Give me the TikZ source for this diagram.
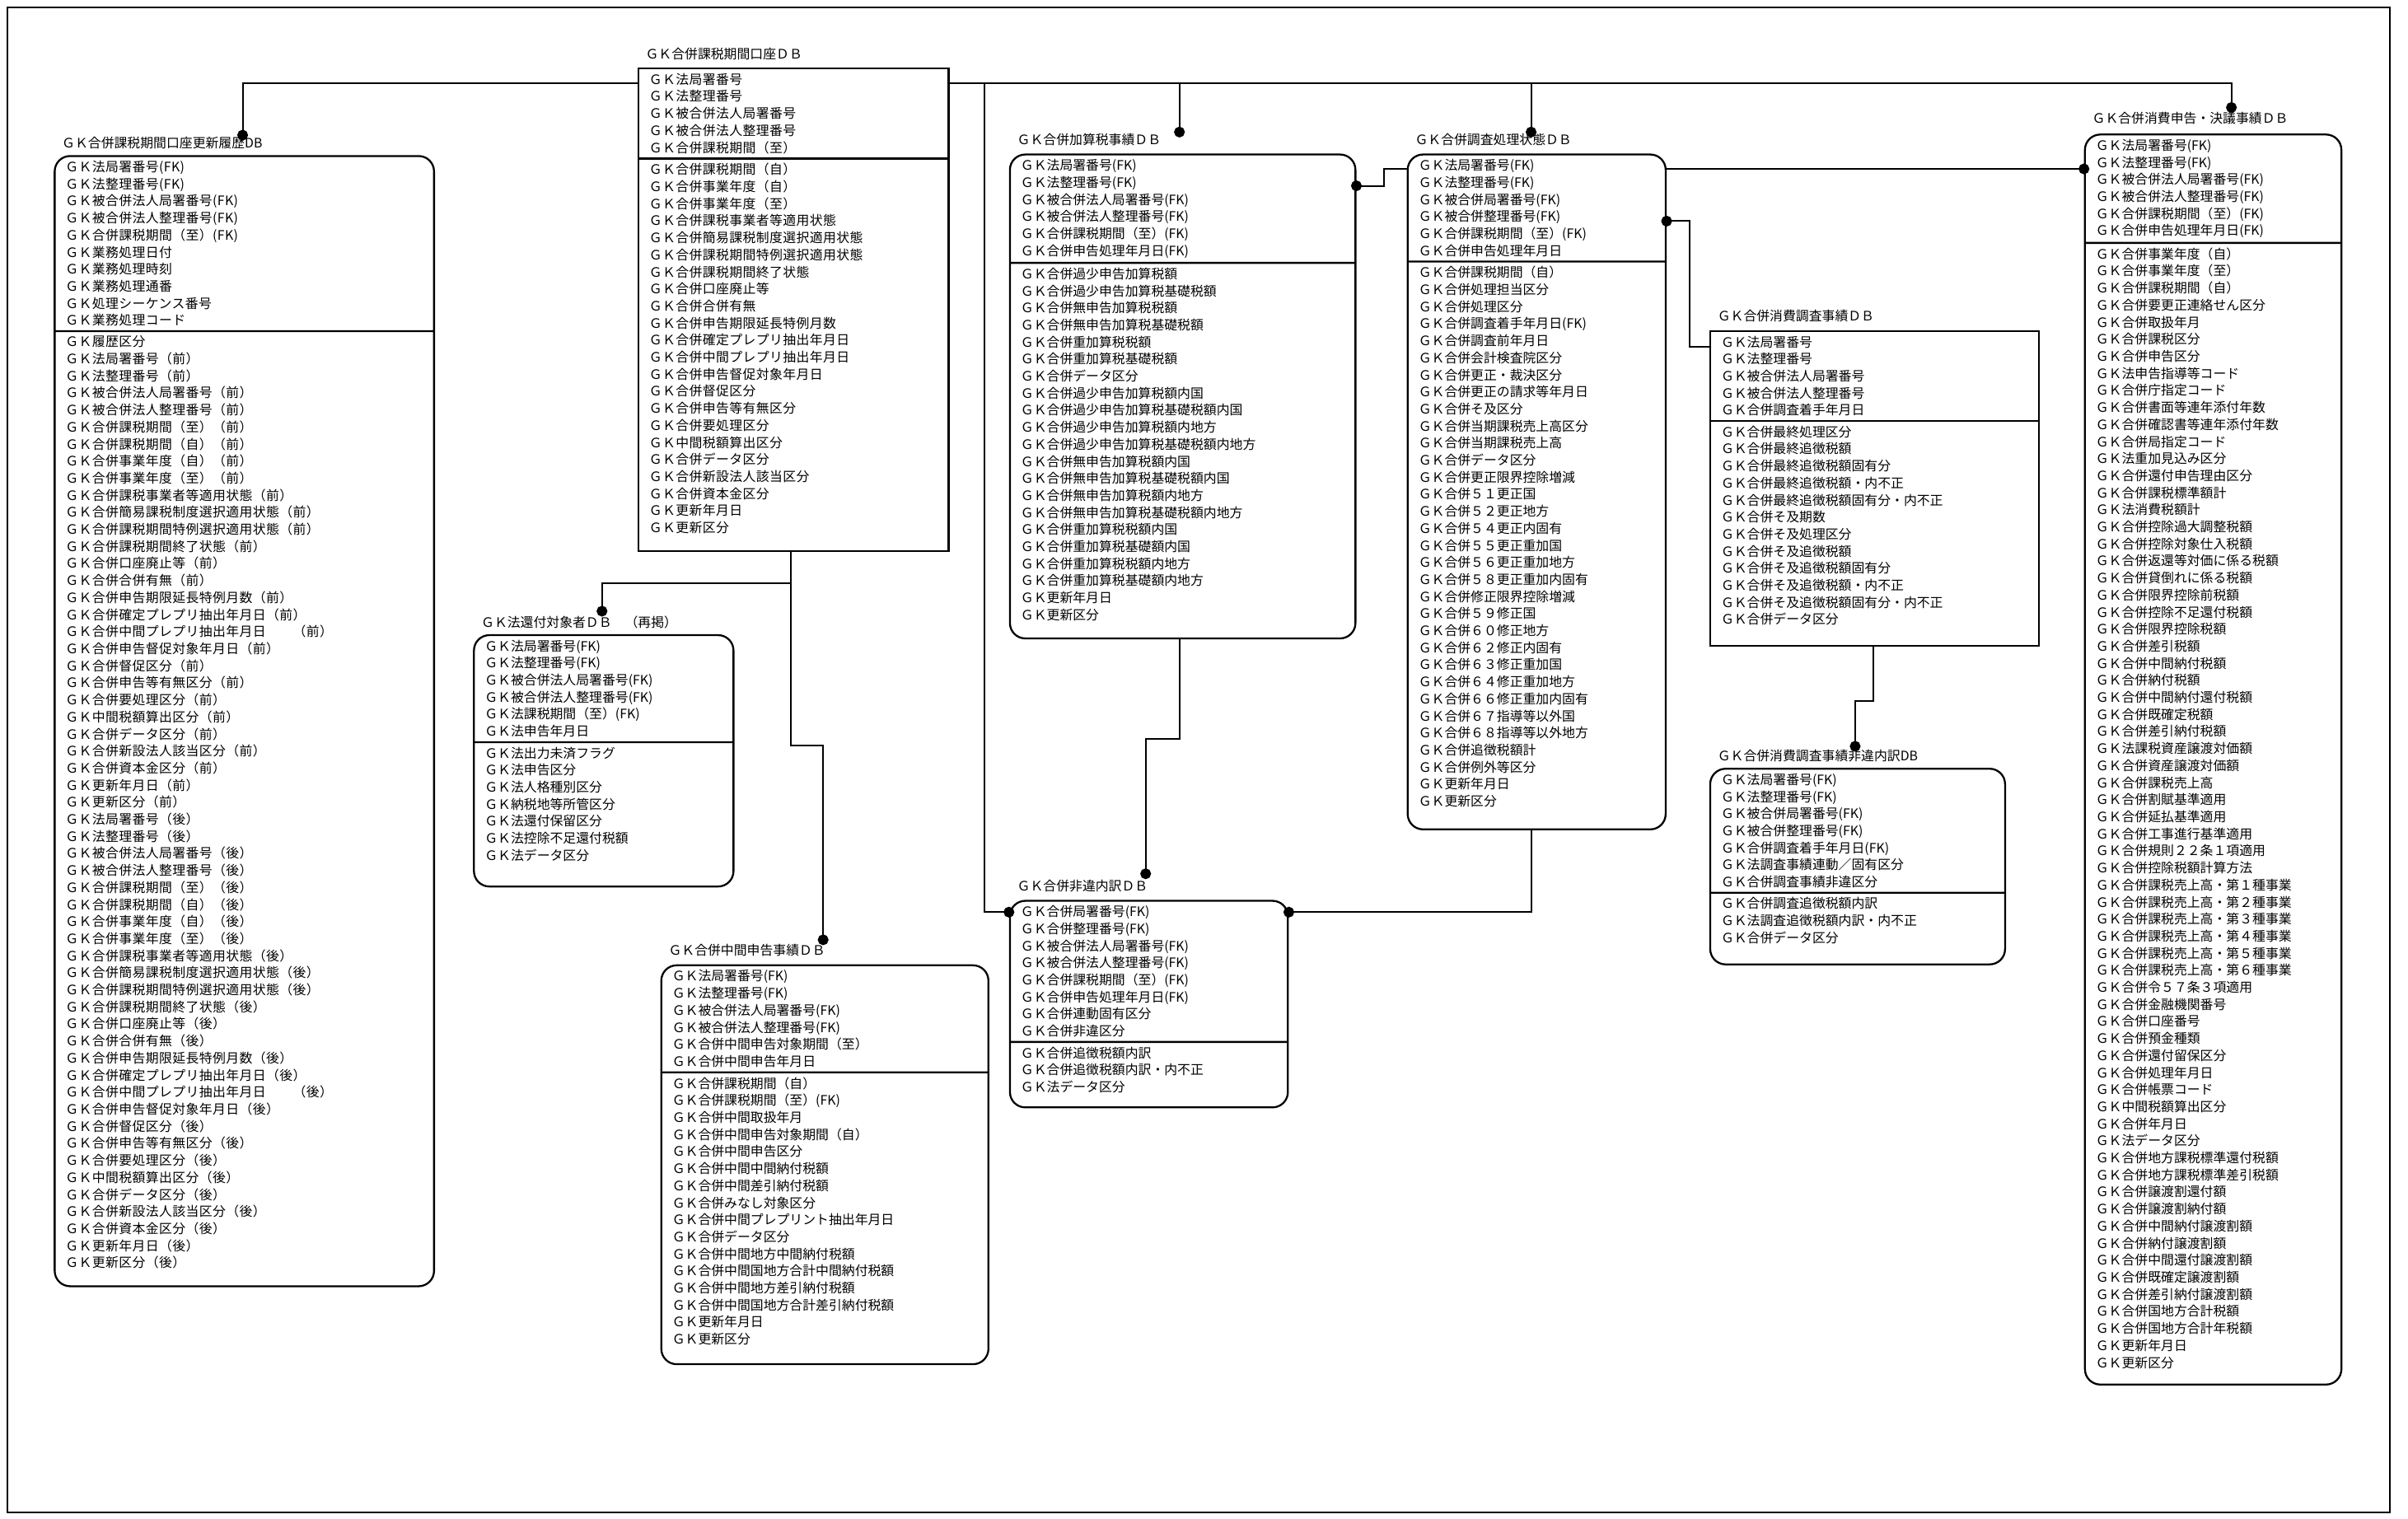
\documentclass[tikz,border=0pt]{standalone}
\usepackage{fontspec}
\newfontfamily\erfont{Noto Sans CJK JP}
\newfontfamily\erwide[LetterSpace=2.5]{Noto Sans CJK JP}
\usetikzlibrary{arrows.meta, calc, shapes.multipart}
% empty space under the last row of an entity
\newcommand{\tailgap}[1]{\rule[-#1]{0pt}{#1}}

\begin{document}
\begin{tikzpicture}[x=0.2mm, y=-0.2mm,
    fld/.style={font=\erfont\fontsize{4.84pt}{6.32pt}\selectfont},
    fldw/.style={font=\erwide\fontsize{4.84pt}{6.32pt}\selectfont},
    ent/.style={draw, line width=0.7pt, rectangle split, rectangle split parts=2,
                anchor=north west, align=left, inner xsep=1.4mm, inner ysep=0.5mm},
    dep/.style={ent, rounded corners=2mm},
    ttl/.style={anchor=west, inner sep=0pt},
    rel/.style={line width=0.6pt, -{Circle[length=1.4mm]}, shorten >=-0.7mm}
  ]
    \useasboundingbox (0,0) rectangle (1568,989);
    \draw[line width=0.7pt] (5,5) rectangle (1556,985);

    % --- GK合併課税期間口座更新履歴DB
    \node[ttl, fld] (t1) at (40,93) {ＧＫ合併課税期間口座更新履歴DB};
    \node[dep, fldw, text width=46.6mm] (e1) at (35,101)
      {ＧＫ法局署番号(FK)\\ＧＫ法整理番号(FK)\\ＧＫ被合併法人局署番号(FK)\\
       ＧＫ被合併法人整理番号(FK)\\ＧＫ合併課税期間（至）(FK)\\ＧＫ業務処理日付\\
       ＧＫ業務処理時刻\\ＧＫ業務処理通番\\ＧＫ処理シーケンス番号\\ＧＫ業務処理コード
       \nodepart{two}
       ＧＫ履歴区分\\ＧＫ法局署番号（前）\\ＧＫ法整理番号（前）\\
       ＧＫ被合併法人局署番号（前）\\ＧＫ被合併法人整理番号（前）\\
       ＧＫ合併課税期間（至）（前）\\ＧＫ合併課税期間（自）（前）\\
       ＧＫ合併事業年度（自）（前）\\ＧＫ合併事業年度（至）（前）\\
       ＧＫ合併課税事業者等適用状態（前）\\ＧＫ合併簡易課税制度選択適用状態（前）\\
       ＧＫ合併課税期間特例選択適用状態（前）\\ＧＫ合併課税期間終了状態（前）\\
       ＧＫ合併口座廃止等（前）\\ＧＫ合併合併有無（前）\\
       ＧＫ合併申告期限延長特例月数（前）\\ＧＫ合併確定プレプリ抽出年月日（前）\\
       ＧＫ合併中間プレプリ抽出年月日　　（前）\\ＧＫ合併申告督促対象年月日（前）\\
       ＧＫ合併督促区分（前）\\ＧＫ合併申告等有無区分（前）\\ＧＫ合併要処理区分（前）\\
       ＧＫ中間税額算出区分（前）\\ＧＫ合併データ区分（前）\\
       ＧＫ合併新設法人該当区分（前）\\ＧＫ合併資本金区分（前）\\
       ＧＫ更新年月日（前）\\ＧＫ更新区分（前）\\
       ＧＫ法局署番号（後）\\ＧＫ法整理番号（後）\\
       ＧＫ被合併法人局署番号（後）\\ＧＫ被合併法人整理番号（後）\\
       ＧＫ合併課税期間（至）（後）\\ＧＫ合併課税期間（自）（後）\\
       ＧＫ合併事業年度（自）（後）\\ＧＫ合併事業年度（至）（後）\\
       ＧＫ合併課税事業者等適用状態（後）\\ＧＫ合併簡易課税制度選択適用状態（後）\\
       ＧＫ合併課税期間特例選択適用状態（後）\\ＧＫ合併課税期間終了状態（後）\\
       ＧＫ合併口座廃止等（後）\\ＧＫ合併合併有無（後）\\
       ＧＫ合併申告期限延長特例月数（後）\\ＧＫ合併確定プレプリ抽出年月日（後）\\
       ＧＫ合併中間プレプリ抽出年月日　　（後）\\ＧＫ合併申告督促対象年月日（後）\\
       ＧＫ合併督促区分（後）\\ＧＫ合併申告等有無区分（後）\\ＧＫ合併要処理区分（後）\\
       ＧＫ中間税額算出区分（後）\\ＧＫ合併データ区分（後）\\
       ＧＫ合併新設法人該当区分（後）\\ＧＫ合併資本金区分（後）\\
       ＧＫ更新年月日（後）\\ＧＫ更新区分（後）\tailgap{1.8mm}};

    % --- GK合併課税期間口座DB
    \node[ttl, fld] (t2) at (420,35) {ＧＫ合併課税期間口座ＤＢ};
    \node[ent, fldw, text width=37.6mm] (e2) at (415,44)
      {ＧＫ法局署番号\\ＧＫ法整理番号\\ＧＫ被合併法人局署番号\\ＧＫ被合併法人整理番号\\
       ＧＫ合併課税期間（至）
       \nodepart{two}
       ＧＫ合併課税期間（自）\\ＧＫ合併事業年度（自）\\ＧＫ合併事業年度（至）\\
       ＧＫ合併課税事業者等適用状態\\ＧＫ合併簡易課税制度選択適用状態\\
       ＧＫ合併課税期間特例選択適用状態\\ＧＫ合併課税期間終了状態\\ＧＫ合併口座廃止等\\
       ＧＫ合併合併有無\\ＧＫ合併申告期限延長特例月数\\ＧＫ合併確定プレプリ抽出年月日\\
       ＧＫ合併中間プレプリ抽出年月日\\ＧＫ合併申告督促対象年月日\\ＧＫ合併督促区分\\
       ＧＫ合併申告等有無区分\\ＧＫ合併要処理区分\\ＧＫ中間税額算出区分\\
       ＧＫ合併データ区分\\ＧＫ合併新設法人該当区分\\ＧＫ合併資本金区分\\
       ＧＫ更新年月日\\ＧＫ更新区分\tailgap{1.8mm}};

    % --- GK法還付対象者DB
    \node[ttl, fld] (t3) at (313,405) {ＧＫ法還付対象者ＤＢ　（再掲）};
    \node[dep, fld, text width=31mm] (e3) at (308,413)
      {ＧＫ法局署番号(FK)\\ＧＫ法整理番号(FK)\\ＧＫ被合併法人局署番号(FK)\\
       ＧＫ被合併法人整理番号(FK)\\ＧＫ法課税期間（至）(FK)\\ＧＫ法申告年月日
       \nodepart{two}
       ＧＫ法出力未済フラグ\\ＧＫ法申告区分\\ＧＫ法人格種別区分\\ＧＫ納税地等所管区分\\
       ＧＫ法還付保留区分\\ＧＫ法控除不足還付税額\\ＧＫ法データ区分\tailgap{2.8mm}};

    % --- GK合併中間申告事績DB
    \node[ttl, fld] (t4) at (435,619) {ＧＫ合併中間申告事績ＤＢ};
    \node[dep, fld, text width=39.8mm] (e4) at (430,628)
      {ＧＫ法局署番号(FK)\\ＧＫ法整理番号(FK)\\ＧＫ被合併法人局署番号(FK)\\
       ＧＫ被合併法人整理番号(FK)\\ＧＫ合併中間申告対象期間（至）\\ＧＫ合併中間申告年月日
       \nodepart{two}
       ＧＫ合併課税期間（自）\\ＧＫ合併課税期間（至）(FK)\\ＧＫ合併中間取扱年月\\
       ＧＫ合併中間申告対象期間（自）\\ＧＫ合併中間申告区分\\ＧＫ合併中間中間納付税額\\
       ＧＫ合併中間差引納付税額\\ＧＫ合併みなし対象区分\\ＧＫ合併中間プレプリント抽出年月日\\
       ＧＫ合併データ区分\\ＧＫ合併中間地方中間納付税額\\ＧＫ合併中間国地方合計中間納付税額\\
       ＧＫ合併中間地方差引納付税額\\ＧＫ合併中間国地方合計差引納付税額\\
       ＧＫ更新年月日\\ＧＫ更新区分\tailgap{2mm}};

    % --- GK合併加算税事績DB
    \node[ttl, fld] (t5) at (662,91) {ＧＫ合併加算税事績ＤＢ};
    \node[dep, fld, text width=42.2mm] (e5) at (657,100)
      {ＧＫ法局署番号(FK)\\ＧＫ法整理番号(FK)\\ＧＫ被合併法人局署番号(FK)\\
       ＧＫ被合併法人整理番号(FK)\\ＧＫ合併課税期間（至）(FK)\\ＧＫ合併申告処理年月日(FK)
       \nodepart{two}
       ＧＫ合併過少申告加算税額\\ＧＫ合併過少申告加算税基礎税額\\ＧＫ合併無申告加算税税額\\
       ＧＫ合併無申告加算税基礎税額\\ＧＫ合併重加算税税額\\ＧＫ合併重加算税基礎税額\\
       ＧＫ合併データ区分\\ＧＫ合併過少申告加算税額内国\\ＧＫ合併過少申告加算税基礎税額内国\\
       ＧＫ合併過少申告加算税額内地方\\ＧＫ合併過少申告加算税基礎税額内地方\\
       ＧＫ合併無申告加算税額内国\\ＧＫ合併無申告加算税基礎税額内国\\
       ＧＫ合併無申告加算税額内地方\\ＧＫ合併無申告加算税基礎税額内地方\\
       ＧＫ合併重加算税税額内国\\ＧＫ合併重加算税基礎額内国\\ＧＫ合併重加算税税額内地方\\
       ＧＫ合併重加算税基礎額内地方\\ＧＫ更新年月日\\ＧＫ更新区分\tailgap{1.8mm}};

    % --- GK合併非違内訳DB
    \node[ttl, fld] (t6) at (662,577) {ＧＫ合併非違内訳ＤＢ};
    \node[dep, fld, text width=33.4mm] (e6) at (657,586)
      {ＧＫ合併局署番号(FK)\\ＧＫ合併整理番号(FK)\\ＧＫ被合併法人局署番号(FK)\\
       ＧＫ被合併法人整理番号(FK)\\ＧＫ合併課税期間（至）(FK)\\ＧＫ合併申告処理年月日(FK)\\
       ＧＫ合併連動固有区分\\ＧＫ合併非違区分
       \nodepart{two}
       ＧＫ合併追徴税額内訳\\ＧＫ合併追徴税額内訳・内不正\\ＧＫ法データ区分\tailgap{1.4mm}};

    % --- GK合併調査処理状態DB
    \node[ttl, fld] (t7) at (921,91) {ＧＫ合併調査処理状態ＤＢ};
    \node[dep, fld, text width=30.8mm] (e7) at (916,100)
      {ＧＫ法局署番号(FK)\\ＧＫ法整理番号(FK)\\ＧＫ被合併局署番号(FK)\\
       ＧＫ被合併整理番号(FK)\\ＧＫ合併課税期間（至）(FK)\\ＧＫ合併申告処理年月日
       \nodepart{two}
       ＧＫ合併課税期間（自）\\ＧＫ合併処理担当区分\\ＧＫ合併処理区分\\
       ＧＫ合併調査着手年月日(FK)\\ＧＫ合併調査前年月日\\ＧＫ合併会計検査院区分\\
       ＧＫ合併更正・裁決区分\\ＧＫ合併更正の請求等年月日\\ＧＫ合併そ及区分\\
       ＧＫ合併当期課税売上高区分\\ＧＫ合併当期課税売上高\\ＧＫ合併データ区分\\
       ＧＫ合併更正限界控除増減\\ＧＫ合併５１更正国\\ＧＫ合併５２更正地方\\
       ＧＫ合併５４更正内固有\\ＧＫ合併５５更正重加国\\ＧＫ合併５６更正重加地方\\
       ＧＫ合併５８更正重加内固有\\ＧＫ合併修正限界控除増減\\ＧＫ合併５９修正国\\
       ＧＫ合併６０修正地方\\ＧＫ合併６２修正内固有\\ＧＫ合併６３修正重加国\\
       ＧＫ合併６４修正重加地方\\ＧＫ合併６６修正重加内固有\\ＧＫ合併６７指導等以外国\\
       ＧＫ合併６８指導等以外地方\\ＧＫ合併追徴税額計\\ＧＫ合併例外等区分\\
       ＧＫ更新年月日\\ＧＫ更新区分\tailgap{2.4mm}};

    % --- GK合併消費調査事績DB
    \node[ttl, fld] (t8) at (1118,206) {ＧＫ合併消費調査事績ＤＢ};
    \node[ent, fld, text width=40mm] (e8) at (1113,215)
      {ＧＫ法局署番号\\ＧＫ法整理番号\\ＧＫ被合併法人局署番号\\ＧＫ被合併法人整理番号\\
       ＧＫ合併調査着手年月日
       \nodepart{two}
       ＧＫ合併最終処理区分\\ＧＫ合併最終追徴税額\\ＧＫ合併最終追徴税額固有分\\
       ＧＫ合併最終追徴税額・内不正\\ＧＫ合併最終追徴税額固有分・内不正\\
       ＧＫ合併そ及期数\\ＧＫ合併そ及処理区分\\ＧＫ合併そ及追徴税額\\
       ＧＫ合併そ及追徴税額固有分\\ＧＫ合併そ及追徴税額・内不正\\
       ＧＫ合併そ及追徴税額固有分・内不正\\ＧＫ合併データ区分\tailgap{2.2mm}};

    % --- GK合併消費調査事績非違内訳DB
    \node[ttl, fld] (t9) at (1118,492) {ＧＫ合併消費調査事績非違内訳DB};
    \node[dep, fld, text width=35.6mm] (e9) at (1113,500)
      {ＧＫ法局署番号(FK)\\ＧＫ法整理番号(FK)\\ＧＫ被合併局署番号(FK)\\
       ＧＫ被合併整理番号(FK)\\ＧＫ合併調査着手年月日(FK)\\ＧＫ法調査事績連動／固有区分\\
       ＧＫ合併調査事績非違区分
       \nodepart{two}
       ＧＫ合併調査追徴税額内訳\\ＧＫ法調査追徴税額内訳・内不正\\ＧＫ合併データ区分\tailgap{2.2mm}};

    % --- GK合併消費申告・決議事績DB
    \node[ttl, fld] (t10) at (1362,77) {ＧＫ合併消費申告・決議事績ＤＢ};
    \node[dep, fld, text width=30.6mm] (e10) at (1357,87)
      {ＧＫ法局署番号(FK)\\ＧＫ法整理番号(FK)\\ＧＫ被合併法人局署番号(FK)\\
       ＧＫ被合併法人整理番号(FK)\\ＧＫ合併課税期間（至）(FK)\\ＧＫ合併申告処理年月日(FK)
       \nodepart{two}
       ＧＫ合併事業年度（自）\\ＧＫ合併事業年度（至）\\ＧＫ合併課税期間（自）\\
       ＧＫ合併要更正連絡せん区分\\ＧＫ合併取扱年月\\ＧＫ合併課税区分\\ＧＫ合併申告区分\\
       ＧＫ法申告指導等コード\\ＧＫ合併庁指定コード\\ＧＫ合併書面等連年添付年数\\
       ＧＫ合併確認書等連年添付年数\\ＧＫ合併局指定コード\\ＧＫ法重加見込み区分\\
       ＧＫ合併還付申告理由区分\\ＧＫ合併課税標準額計\\ＧＫ法消費税額計\\
       ＧＫ合併控除過大調整税額\\ＧＫ合併控除対象仕入税額\\ＧＫ合併返還等対価に係る税額\\
       ＧＫ合併貸倒れに係る税額\\ＧＫ合併限界控除前税額\\ＧＫ合併控除不足還付税額\\
       ＧＫ合併限界控除税額\\ＧＫ合併差引税額\\ＧＫ合併中間納付税額\\ＧＫ合併納付税額\\
       ＧＫ合併中間納付還付税額\\ＧＫ合併既確定税額\\ＧＫ合併差引納付税額\\
       ＧＫ法課税資産譲渡対価額\\ＧＫ合併資産譲渡対価額\\ＧＫ合併課税売上高\\
       ＧＫ合併割賦基準適用\\ＧＫ合併延払基準適用\\ＧＫ合併工事進行基準適用\\
       ＧＫ合併規則２２条１項適用\\ＧＫ合併控除税額計算方法\\
       ＧＫ合併課税売上高・第１種事業\\ＧＫ合併課税売上高・第２種事業\\
       ＧＫ合併課税売上高・第３種事業\\ＧＫ合併課税売上高・第４種事業\\
       ＧＫ合併課税売上高・第５種事業\\ＧＫ合併課税売上高・第６種事業\\
       ＧＫ合併令５７条３項適用\\ＧＫ合併金融機関番号\\ＧＫ合併口座番号\\ＧＫ合併預金種類\\
       ＧＫ合併還付留保区分\\ＧＫ合併処理年月日\\ＧＫ合併帳票コード\\ＧＫ中間税額算出区分\\
       ＧＫ合併年月日\\ＧＫ法データ区分\\ＧＫ合併地方課税標準還付税額\\
       ＧＫ合併地方課税標準差引税額\\ＧＫ合併譲渡割還付額\\ＧＫ合併譲渡割納付額\\
       ＧＫ合併中間納付譲渡割額\\ＧＫ合併納付譲渡割額\\ＧＫ合併中間還付譲渡割額\\
       ＧＫ合併既確定譲渡割額\\ＧＫ合併差引納付譲渡割額\\ＧＫ合併国地方合計税額\\
       ＧＫ合併国地方合計年税額\\ＧＫ更新年月日\\ＧＫ更新区分\tailgap{1.6mm}};

    % relationships (dot = child side)
    \draw[rel] ($(e2.north west)+(0,10)$) -| ($(e1.north west)+(123,-13)$);
    \draw[rel] ($(e2.north east)+(0,10)$) -| ($(e5.north west)+(111,-14)$);
    \draw[rel] ($(e2.north east)+(0,10)$) -| ($(e7.north west)+(81,-14)$);
    \draw[rel] ($(e2.north east)+(0,10)$) -| ($(e10.north west)+(96,-17)$);
    \draw[rel] ($(e2.north east)+(0,10)$) -- ++(23,0) |- ($(e6.north west)+(0,8)$);
    \draw[rel] ($(e2.south west)+(100,0)$) -- ++(0,20) -| ($(e3.north west)+(84,-15)$);
    \draw[rel] ($(e2.south west)+(100,0)$) -- ++(0,126) -| ($(e4.north west)+(106,-16)$);
    \draw[rel] ($(e7.north west)+(0,10)$) -- ++(-15,0) |- ($(e5.north east)+(0,21)$);
    \draw[rel] ($(e5.south west)+(111,0)$) -- ++(0,65) -| ($(e6.north west)+(89,-17)$);
    \draw[rel] ($(e7.south west)+(81,0)$) |- ($(e6.north east)+(0,8)$);
    \draw[rel] ($(e7.north east)+(0,10)$) -- ($(e10.north west)+(0,23)$);
    \draw[rel] ($(e8.north west)+(0,11)$) -- ++(-13,0) |- ($(e7.north east)+(0,44)$);
    \draw[rel] ($(e8.south west)+(107,0)$) -- ++(0,35) -| ($(e9.north west)+(95,-14)$);
  \end{tikzpicture}
\end{document}
